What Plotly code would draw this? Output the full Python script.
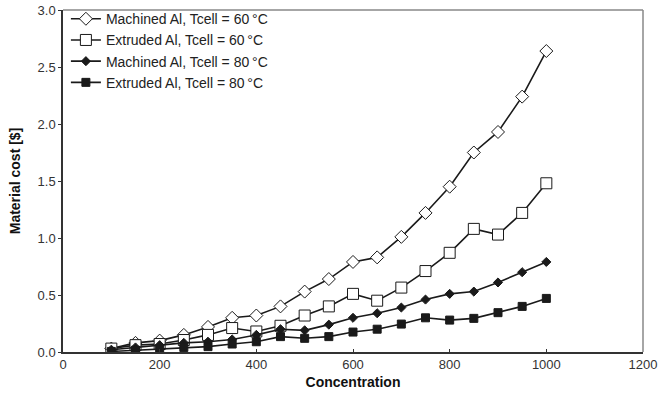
import plotly.graph_objects as go

conc = [100, 150, 200, 250, 300, 350, 400, 450, 500, 550, 600, 650, 700, 750, 800, 850, 900, 950, 1000]
machined_60 = [0.03, 0.08, 0.10, 0.15, 0.22, 0.30, 0.32, 0.40, 0.53, 0.64, 0.79, 0.83, 1.01, 1.22, 1.45, 1.75, 1.93, 2.24, 2.64]
extruded_60 = [0.03, 0.06, 0.07, 0.105, 0.15, 0.21, 0.18, 0.23, 0.32, 0.40, 0.51, 0.45, 0.565, 0.71, 0.87, 1.08, 1.03, 1.22, 1.48]
machined_80 = [0.02, 0.04, 0.06, 0.08, 0.09, 0.11, 0.15, 0.20, 0.19, 0.24, 0.30, 0.34, 0.39, 0.46, 0.51, 0.53, 0.61, 0.70, 0.79]
extruded_80 = [0.005, 0.015, 0.03, 0.04, 0.047, 0.07, 0.09, 0.135, 0.12, 0.135, 0.175, 0.20, 0.245, 0.30, 0.28, 0.295, 0.345, 0.40, 0.47]
names = ["Machined Al, Tcell = 60\u2009°C", "Extruded Al, Tcell = 60\u2009°C",
         "Machined Al, Tcell = 80\u2009°C", "Extruded Al, Tcell = 80\u2009°C"]

line_col = "#1a1a1a"
fig = go.Figure()
specs = [
    (machined_60, "diamond", "white", 10),
    (extruded_60, "square", "white", 11),
    (machined_80, "diamond", line_col, 7),
    (extruded_80, "square", line_col, 8),
]
for (vals, sym, fill, size), name in zip(specs, names):
    fig.add_trace(go.Scatter(
        x=conc, y=vals, name=name, mode="lines+markers",
        line=dict(color=line_col, width=1.6),
        marker=dict(symbol=sym, size=size, color=fill, line=dict(color=line_col, width=1)),
    ))

font = "Liberation Sans, Arial, sans-serif"
fig.update_layout(
    width=660, height=401,
    margin=dict(l=63, r=17, t=10, b=49, autoexpand=False),
    paper_bgcolor="white", plot_bgcolor="white",
    font=dict(family=font, size=13, color="#333333"),
    showlegend=True,
    legend=dict(x=0.005, y=1.02, xanchor="left", yanchor="top",
                bgcolor="rgba(0,0,0,0)", font=dict(size=14, color="#222222"),
                tracegroupgap=0, itemwidth=30),
    xaxis=dict(range=[0, 1200], tickvals=[0, 200, 400, 600, 800, 1000, 1200],
               showgrid=False, zeroline=False, showline=True, linecolor="#333333", linewidth=1.5,
               ticks="inside", ticklen=3, tickcolor="#333333",
               title=dict(text="<b>Concentration</b>", font=dict(size=14, color="#111111"), standoff=6)),
    yaxis=dict(range=[0, 3.0], tickvals=[0, 0.5, 1.0, 1.5, 2.0, 2.5, 3.0], tickformat=".1f",
               showgrid=False, zeroline=False, showline=True, linecolor="#333333", linewidth=1.5,
               ticks="outside", ticklen=3, tickcolor="#333333",
               title=dict(text="<b>Material cost [$]</b>", font=dict(size=14, color="#111111"), standoff=14)),
)
# top and right frame in gray
fig.add_shape(type="line", xref="paper", yref="paper", x0=0, x1=1, y0=1, y1=1,
              line=dict(color="#888888", width=1.5))
fig.add_shape(type="line", xref="paper", yref="paper", x0=1, x1=1, y0=0, y1=1,
              line=dict(color="#888888", width=1.5))

fig.write_html("out.html")
